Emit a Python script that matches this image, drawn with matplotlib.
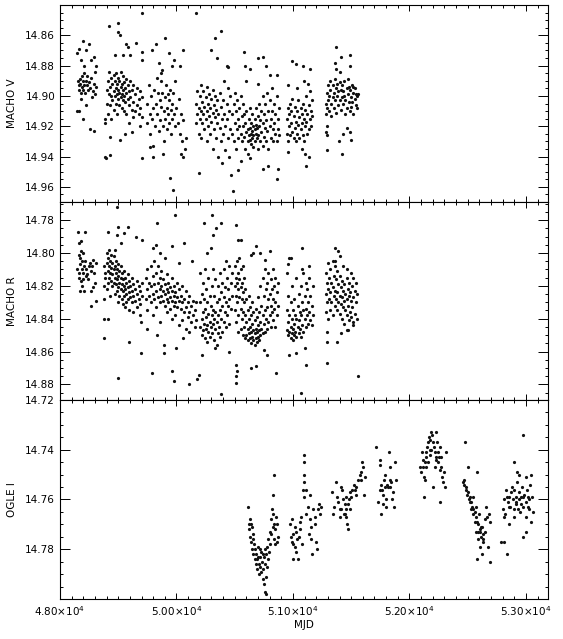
import numpy as np
import matplotlib
matplotlib.use("Agg")
import matplotlib.pyplot as plt
from matplotlib.ticker import MultipleLocator, FixedLocator

# each row: (MJD, mag, mag, ...) -> all mags observed near that date
v_obs = [
    # season 1
    (49150, 14.872, 14.910), (49155, 14.890), (49160, 14.893, 14.910), (49165, 14.869, 14.896), (49170, 14.889),
    (49175, 14.892), (49178, 14.876), (49180, 14.898, 14.902), (49185, 14.887), (49190, 14.894), (49195, 14.864, 14.890),
    (49200, 14.896, 14.915), (49205, 14.885), (49210, 14.880, 14.893), (49215, 14.898), (49220, 14.890),
    (49225, 14.870, 14.906), (49230, 14.893), (49235, 14.887), (49240, 14.896), (49250, 14.866, 14.891), (49255, 14.922),
    (49260, 14.895), (49270, 14.876, 14.888), (49275, 14.901), (49280, 14.897), (49290, 14.874, 14.892, 14.923),
    (49300, 14.899, 14.884), (49305, 14.880), (49310, 14.894),
    # season 2
    (49383, 14.940), (49390, 14.915, 14.918), (49395, 14.941), (49400, 14.896, 14.905), (49410, 14.890, 14.912),
    (49418, 14.854), (49420, 14.899, 14.884), (49426, 14.939, 14.927), (49430, 14.894, 14.906),
    (49440, 14.888, 14.900, 14.915), (49450, 14.892, 14.903), (49460, 14.886, 14.897, 14.909),
    (49470, 14.890, 14.900, 14.873), (49480, 14.885, 14.895, 14.905), (49490, 14.892, 14.899, 14.912), (49498, 14.852),
    (49500, 14.888, 14.896, 14.902, 14.858), (49510, 14.890, 14.898, 14.906), (49512, 14.860), (49513, 14.929),
    (49520, 14.884, 14.894, 14.901), (49530, 14.892, 14.899, 14.908), (49540, 14.887, 14.896, 14.903, 14.873),
    (49550, 14.891, 14.900, 14.910), (49556, 14.925), (49560, 14.895, 14.904), (49570, 14.889, 14.898, 14.912, 14.866),
    (49580, 14.893, 14.902), (49585, 14.868), (49590, 14.897, 14.906, 14.918), (49600, 14.890, 14.901, 14.873),
    (49615, 14.896, 14.909), (49620, 14.924), (49630, 14.893, 14.904, 14.914), (49645, 14.899, 14.910), (49650, 14.865),
    (49660, 14.895, 14.906), (49675, 14.902, 14.912), (49690, 14.897, 14.908, 14.920), (49700, 14.876, 14.941),
    (49705, 14.901, 14.914), (49708, 14.845, 14.871),
    # season 3
    (49745, 14.905), (49750, 14.918), (49760, 14.893), (49770, 14.912, 14.934), (49775, 14.925), (49780, 14.900),
    (49790, 14.915, 14.870), (49795, 14.933), (49800, 14.908, 14.940), (49805, 14.896), (49815, 14.920),
    (49820, 14.905, 14.866), (49830, 14.888), (49835, 14.912), (49840, 14.898), (49850, 14.923, 14.878), (49855, 14.903),
    (49860, 14.916), (49865, 14.890), (49870, 14.907, 14.885), (49880, 14.898, 14.883), (49885, 14.920, 14.938),
    (49890, 14.910), (49895, 14.930), (49900, 14.901), (49905, 14.915, 14.862), (49910, 14.893), (49915, 14.908),
    (49920, 14.922), (49925, 14.899), (49930, 14.912), (49935, 14.903, 14.872), (49940, 14.918), (49944, 14.954),
    (49945, 14.896), (49950, 14.909), (49955, 14.925), (49960, 14.905, 14.880), (49965, 14.915), (49970, 14.898),
    (49972, 14.962), (49980, 14.912, 14.876), (49985, 14.890), (49990, 14.920), (50000, 14.908), (50010, 14.918),
    (50020, 14.902), (50030, 14.925, 14.880), (50035, 14.938), (50040, 14.912), (50050, 14.930),
    (50060, 14.916, 14.870, 14.940), (50070, 14.935), (50080, 14.928),
    # season 4
    (50166, 14.845), (50170, 14.905, 14.918), (50180, 14.897, 14.912), (50190, 14.908, 14.925, 14.951),
    (50200, 14.900, 14.915), (50210, 14.893, 14.910, 14.928), (50220, 14.904, 14.918), (50230, 14.897, 14.912),
    (50240, 14.907, 14.922), (50250, 14.901, 14.915), (50260, 14.894, 14.910, 14.930), (50270, 14.905, 14.920),
    (50280, 14.899, 14.913), (50290, 14.908, 14.925), (50300, 14.902, 14.917, 14.870), (50310, 14.896, 14.911, 14.935),
    (50320, 14.906, 14.922), (50330, 14.900, 14.914), (50335, 14.862), (50340, 14.909, 14.928),
    (50350, 14.903, 14.918, 14.875), (50360, 14.912, 14.940), (50370, 14.898, 14.921), (50380, 14.907, 14.930, 14.857),
    (50390, 14.915, 14.944), (50400, 14.903, 14.925), (50410, 14.890, 14.912), (50420, 14.920, 14.936),
    (50430, 14.905, 14.915, 14.880), (50440, 14.895, 14.928), (50445, 14.881), (50450, 14.910, 14.940),
    (50460, 14.900, 14.922), (50465, 14.952),
    # season 5
    (50480, 14.912, 14.925), (50485, 14.963), (50490, 14.905, 14.930), (50500, 14.918, 14.898), (50510, 14.910, 14.935),
    (50520, 14.922, 14.903), (50530, 14.915, 14.928, 14.949), (50540, 14.908, 14.920), (50550, 14.925, 14.900, 14.943),
    (50560, 14.913, 14.930), (50570, 14.920, 14.905), (50580, 14.927, 14.912, 14.871), (50585, 14.880),
    (50590, 14.918, 14.935), (50600, 14.910, 14.924, 14.890), (50610, 14.922, 14.930, 14.938), (50620, 14.915, 14.926),
    (50630, 14.908, 14.921, 14.929, 14.941), (50635, 14.882), (50640, 14.918, 14.925, 14.932),
    (50650, 14.912, 14.923, 14.928), (50660, 14.920, 14.926, 14.934), (50670, 14.915, 14.922, 14.930),
    (50680, 14.908, 14.925, 14.919), (50690, 14.921, 14.928), (50700, 14.913, 14.926, 14.935, 14.875, 14.892),
    (50710, 14.905, 14.920), (50720, 14.916, 14.930), (50730, 14.910, 14.924), (50740, 14.900, 14.918, 14.933, 14.948),
    (50745, 14.874), (50750, 14.912, 14.927), (50760, 14.905, 14.921), (50770, 14.916, 14.930, 14.880),
    (50780, 14.898, 14.923), (50790, 14.910, 14.935, 14.946), (50800, 14.903, 14.920, 14.886), (50810, 14.915, 14.928),
    (50820, 14.895, 14.910), (50830, 14.922, 14.930), (50840, 14.905, 14.918), (50850, 14.925, 14.912),
    (50860, 14.900, 14.930, 14.886), (50865, 14.955), (50870, 14.915, 14.922, 14.948), (50880, 14.908, 14.926),
    # season 6
    (50945, 14.915, 14.925), (50955, 14.908, 14.930, 14.893), (50960, 14.937), (50965, 14.912, 14.920),
    (50975, 14.905, 14.926), (50985, 14.918, 14.910), (50990, 14.877), (50995, 14.902, 14.924), (51005, 14.913, 14.928),
    (51015, 14.907, 14.921), (51025, 14.917, 14.930), (51030, 14.879), (51035, 14.910, 14.925, 14.895),
    (51045, 14.903, 14.919), (51055, 14.914, 14.928), (51065, 14.908, 14.922), (51075, 14.918, 14.912), (51080, 14.935),
    (51085, 14.905, 14.926, 14.880), (51093, 14.890), (51095, 14.915, 14.930), (51100, 14.938), (51105, 14.909, 14.920),
    (51110, 14.946), (51115, 14.900, 14.917), (51125, 14.912, 14.925), (51130, 14.892), (51135, 14.906, 14.922),
    (51140, 14.940), (51145, 14.915, 14.897), (51150, 14.882), (51155, 14.910, 14.920), (51165, 14.903, 14.913),
    # season 7
    (51280, 14.905, 14.912), (51287, 14.924), (51290, 14.898, 14.908), (51293, 14.920, 14.926, 14.936),
    (51300, 14.893, 14.903), (51310, 14.900, 14.910), (51320, 14.896, 14.890), (51330, 14.905, 14.913),
    (51340, 14.893, 14.901), (51350, 14.898, 14.908), (51358, 14.878), (51360, 14.889, 14.903), (51367, 14.868),
    (51370, 14.895, 14.911), (51373, 14.882), (51380, 14.900, 14.892), (51390, 14.906, 14.897), (51396, 14.930),
    (51400, 14.891, 14.903), (51407, 14.884), (51410, 14.896, 14.909, 14.874), (51420, 14.901, 14.893), (51424, 14.938),
    (51430, 14.897, 14.905, 14.925), (51440, 14.890, 14.900), (51450, 14.903, 14.912), (51460, 14.895, 14.908, 14.921),
    (51470, 14.899, 14.889), (51480, 14.904, 14.894), (51487, 14.880, 14.924), (51490, 14.896, 14.910), (51493, 14.873),
    (51500, 14.901, 14.907, 14.929), (51510, 14.893, 14.904), (51516, 14.894), (51520, 14.898, 14.912),
    (51530, 14.902, 14.895), (51540, 14.906, 14.899), (51550, 14.900, 14.908), (51559, 14.899),
]

r_obs = [
    # season 1
    (49150, 14.810), (49152, 14.787), (49160, 14.801, 14.812), (49165, 14.815), (49166, 14.794), (49170, 14.803, 14.823),
    (49175, 14.807), (49180, 14.793, 14.799, 14.817), (49185, 14.810), (49190, 14.805, 14.820), (49195, 14.812),
    (49200, 14.800, 14.816), (49205, 14.808), (49210, 14.823), (49215, 14.805), (49217, 14.787), (49220, 14.814),
    (49225, 14.810), (49235, 14.813), (49240, 14.816), (49245, 14.808), (49255, 14.806), (49265, 14.811, 14.832),
    (49266, 14.823), (49275, 14.808), (49280, 14.821), (49285, 14.804), (49295, 14.812), (49300, 14.818),
    (49305, 14.806), (49308, 14.829),
    # season 2
    (49380, 14.808, 14.820, 14.828, 14.840, 14.852), (49390, 14.812, 14.815), (49400, 14.800, 14.806, 14.822),
    (49410, 14.803, 14.811, 14.818, 14.787, 14.840), (49420, 14.798, 14.808, 14.815), (49430, 14.805, 14.812, 14.826),
    (49440, 14.801, 14.809, 14.817), (49450, 14.806, 14.813, 14.820), (49460, 14.802, 14.810, 14.818),
    (49470, 14.808, 14.815, 14.825, 14.798), (49480, 14.805, 14.812, 14.819), (49489, 14.772, 14.789),
    (49490, 14.810, 14.816, 14.823), (49495, 14.784, 14.876), (49500, 14.807, 14.814, 14.821, 14.830),
    (49510, 14.811, 14.818, 14.826), (49520, 14.808, 14.815, 14.822, 14.794), (49530, 14.812, 14.819, 14.828),
    (49540, 14.816, 14.823, 14.831), (49550, 14.811, 14.820, 14.826), (49552, 14.788), (49560, 14.815, 14.822, 14.833),
    (49570, 14.818, 14.825, 14.830), (49580, 14.813, 14.821, 14.828, 14.784), (49590, 14.817, 14.824, 14.835),
    (49595, 14.854), (49600, 14.820, 14.827), (49615, 14.815, 14.823, 14.830), (49630, 14.819, 14.826, 14.836),
    (49645, 14.822, 14.829), (49652, 14.790), (49660, 14.817, 14.825, 14.833), (49675, 14.820, 14.828),
    (49690, 14.823, 14.831, 14.838), (49695, 14.842, 14.861), (49704, 14.792), (49705, 14.818, 14.826),
    # season 3
    (49735, 14.815, 14.828), (49745, 14.846), (49750, 14.810, 14.822, 14.835), (49765, 14.818, 14.826),
    (49780, 14.808, 14.820, 14.830), (49789, 14.873), (49795, 14.814, 14.825, 14.838, 14.797),
    (49810, 14.805, 14.819, 14.828), (49825, 14.812, 14.823, 14.833, 14.795), (49829, 14.782), (49830, 14.850),
    (49840, 14.808, 14.818, 14.827), (49855, 14.815, 14.822, 14.830, 14.842), (49860, 14.800),
    (49870, 14.811, 14.820, 14.826), (49885, 14.816, 14.823, 14.829), (49895, 14.856, 14.861),
    (49900, 14.819, 14.825, 14.832, 14.803), (49915, 14.813, 14.822, 14.828, 14.836), (49930, 14.818, 14.824, 14.830),
    (49945, 14.821, 14.827, 14.834), (49958, 14.872), (49960, 14.815, 14.823, 14.829, 14.840), (49965, 14.796),
    (49975, 14.820, 14.826, 14.832, 14.878), (49989, 14.777), (49990, 14.824, 14.830, 14.838), (50000, 14.858),
    (50005, 14.818, 14.827, 14.833), (50020, 14.822, 14.829, 14.844, 14.806), (50035, 14.826, 14.834),
    (50050, 14.820, 14.830, 14.841), (50060, 14.852), (50065, 14.828, 14.836, 14.794), (50080, 14.823, 14.833, 14.846),
    (50095, 14.830, 14.839), (50109, 14.880), (50110, 14.826, 14.836, 14.848), (50125, 14.832, 14.842), (50130, 14.805),
    (50140, 14.829, 14.838), (50155, 14.835, 14.845), (50170, 14.830, 14.841), (50180, 14.877), (50195, 14.874),
    # season 4
    (50205, 14.812, 14.830, 14.845), (50215, 14.825, 14.840, 14.850), (50220, 14.862), (50225, 14.818, 14.836, 14.847),
    (50235, 14.828, 14.843, 14.782), (50245, 14.810, 14.834, 14.852), (50255, 14.822, 14.839, 14.846), (50260, 14.800),
    (50265, 14.830, 14.844, 14.854), (50275, 14.815, 14.837, 14.848), (50285, 14.826, 14.842, 14.851),
    (50295, 14.832, 14.845), (50300, 14.797), (50305, 14.820, 14.838, 14.849), (50309, 14.777),
    (50315, 14.810, 14.835, 14.843, 14.789), (50325, 14.826, 14.840, 14.853), (50330, 14.858),
    (50335, 14.816, 14.836, 14.846), (50343, 14.785), (50345, 14.830, 14.842, 14.856), (50355, 14.820, 14.838, 14.849),
    (50365, 14.828, 14.845), (50375, 14.812, 14.835, 14.851), (50385, 14.824, 14.840), (50386, 14.782, 14.886),
    (50395, 14.818, 14.832, 14.848), (50405, 14.810, 14.827, 14.842), (50415, 14.821, 14.836),
    (50425, 14.805, 14.830, 14.845), (50435, 14.815, 14.838), (50445, 14.822, 14.832), (50450, 14.860),
    (50455, 14.808, 14.828, 14.843), (50465, 14.818, 14.834), (50475, 14.812, 14.826),
    # season 5
    (50500, 14.808, 14.820, 14.835), (50509, 14.783, 14.868, 14.875, 14.879), (50510, 14.815, 14.826, 14.842),
    (50520, 14.805, 14.818, 14.830), (50523, 14.872), (50529, 14.792), (50530, 14.812, 14.822, 14.838, 14.848),
    (50540, 14.803, 14.816, 14.827), (50550, 14.810, 14.821, 14.834, 14.846), (50558, 14.792),
    (50560, 14.818, 14.828, 14.840), (50570, 14.808, 14.824, 14.836, 14.850), (50580, 14.815, 14.830, 14.845),
    (50590, 14.822, 14.838, 14.852), (50600, 14.828, 14.842, 14.850), (50610, 14.835, 14.846, 14.853),
    (50620, 14.826, 14.840, 14.849), (50630, 14.833, 14.845, 14.852), (50640, 14.838, 14.848, 14.855, 14.801),
    (50644, 14.870), (50650, 14.830, 14.843, 14.851), (50660, 14.836, 14.847, 14.853, 14.800),
    (50670, 14.841, 14.849, 14.856), (50680, 14.834, 14.846, 14.852), (50687, 14.796, 14.869),
    (50690, 14.839, 14.848, 14.854), (50700, 14.827, 14.844, 14.851), (50710, 14.836, 14.847, 14.853),
    (50720, 14.820, 14.842, 14.850, 14.800), (50730, 14.832, 14.846), (50740, 14.815, 14.838, 14.849),
    (50750, 14.826, 14.843, 14.859), (50760, 14.810, 14.835, 14.848, 14.804), (50770, 14.822, 14.840),
    (50780, 14.818, 14.833, 14.846, 14.862), (50790, 14.812, 14.828, 14.842), (50800, 14.825, 14.838, 14.799),
    (50810, 14.816, 14.832, 14.845), (50820, 14.822, 14.836), (50830, 14.810, 14.828, 14.841), (50840, 14.820, 14.834),
    (50850, 14.815, 14.830, 14.845), (50852, 14.873), (50860, 14.824, 14.838), (50870, 14.818, 14.832),
    # season 6
    (50950, 14.812, 14.835, 14.847), (50958, 14.807), (50960, 14.826, 14.842, 14.850), (50966, 14.862),
    (50970, 14.803, 14.838, 14.848), (50980, 14.830, 14.845, 14.852), (50987, 14.803), (50990, 14.820, 14.840, 14.849),
    (51000, 14.835, 14.846, 14.853), (51010, 14.828, 14.843, 14.850), (51020, 14.838, 14.848),
    (51030, 14.815, 14.840, 14.851, 14.861), (51040, 14.832, 14.845), (51050, 14.825, 14.841, 14.849),
    (51060, 14.836, 14.846), (51067, 14.885), (51070, 14.820, 14.838, 14.851), (51080, 14.830, 14.844, 14.810),
    (51081, 14.797), (51090, 14.812, 14.835, 14.848), (51100, 14.826, 14.840, 14.858), (51110, 14.818, 14.834, 14.845),
    (51115, 14.868), (51120, 14.822, 14.838), (51130, 14.830, 14.843), (51140, 14.815, 14.836, 14.808),
    (51150, 14.826, 14.841), (51160, 14.832, 14.844), (51170, 14.820, 14.838),
    # season 7
    (51280, 14.812, 14.825, 14.836), (51290, 14.818, 14.830, 14.848), (51293, 14.867), (51296, 14.854),
    (51300, 14.806, 14.822, 14.840), (51310, 14.815, 14.828), (51320, 14.810, 14.824, 14.835), (51330, 14.818, 14.830),
    (51340, 14.805, 14.821, 14.838), (51350, 14.814, 14.826), (51358, 14.797, 14.805), (51360, 14.808, 14.823, 14.832),
    (51370, 14.816, 14.828), (51380, 14.811, 14.824, 14.835, 14.854), (51387, 14.799), (51390, 14.819, 14.830),
    (51400, 14.814, 14.826, 14.837, 14.802), (51410, 14.821, 14.831, 14.849), (51420, 14.817, 14.827, 14.840),
    (51430, 14.823, 14.833, 14.808), (51440, 14.819, 14.829, 14.843), (51450, 14.825, 14.835),
    (51460, 14.815, 14.828, 14.838, 14.810, 14.847), (51470, 14.822, 14.832), (51475, 14.847),
    (51480, 14.818, 14.826, 14.841), (51490, 14.824, 14.836), (51500, 14.812, 14.829, 14.839), (51510, 14.820, 14.833),
    (51520, 14.815, 14.827, 14.844, 14.842), (51530, 14.823, 14.837), (51540, 14.818, 14.830), (51550, 14.825, 14.840),
    (51558, 14.875),
]

i_obs = [
    # season 1
    (50615, 14.763), (50620, 14.770), (50625, 14.772), (50630, 14.768), (50635, 14.775), (50640, 14.777, 14.770),
    (50645, 14.771), (50650, 14.780), (50655, 14.776), (50660, 14.782, 14.774), (50665, 14.778), (50670, 14.784),
    (50675, 14.780), (50680, 14.786), (50685, 14.782), (50690, 14.788), (50695, 14.784), (50700, 14.779, 14.783),
    (50705, 14.786), (50710, 14.790), (50715, 14.783), (50720, 14.787, 14.780), (50725, 14.781), (50730, 14.789),
    (50735, 14.785), (50740, 14.792, 14.782), (50745, 14.788), (50750, 14.783), (50755, 14.794), (50760, 14.786, 14.780),
    (50762, 14.797), (50765, 14.791), (50768, 14.798), (50770, 14.782), (50775, 14.787), (50780, 14.779),
    (50785, 14.784), (50790, 14.776), (50795, 14.781), (50800, 14.773), (50805, 14.778), (50810, 14.768),
    (50815, 14.774), (50820, 14.764), (50825, 14.771), (50830, 14.758), (50832, 14.766), (50835, 14.750),
    (50838, 14.776), (50840, 14.770), (50845, 14.778), (50850, 14.772), (50855, 14.767), (50860, 14.777),
    (50865, 14.770), (50870, 14.775),
    # season 2
    (50973, 14.770), (50987, 14.775), (50995, 14.768, 14.777), (51001, 14.774, 14.778, 14.784), (51015, 14.771, 14.779),
    (51024, 14.781), (51030, 14.773), (51036, 14.776), (51044, 14.784), (51053, 14.775), (51058, 14.772, 14.769),
    (51073, 14.767), (51081, 14.778), (51087, 14.756), (51096, 14.742, 14.745, 14.750, 14.753, 14.759),
    (51116, 14.756, 14.766), (51130, 14.763), (51138, 14.774), (51144, 14.758, 14.768), (51158, 14.771, 14.776),
    (51167, 14.782), (51173, 14.764), (51187, 14.767, 14.770), (51201, 14.777), (51207, 14.780), (51216, 14.764),
    (51224, 14.762), (51230, 14.766), (51238, 14.763),
    # season 3
    (51338, 14.757), (51344, 14.766), (51350, 14.763), (51373, 14.753), (51379, 14.759), (51387, 14.761),
    (51401, 14.764), (51407, 14.767), (51416, 14.755, 14.764), (51424, 14.756), (51430, 14.760), (51436, 14.766),
    (51444, 14.762, 14.766), (51453, 14.764), (51459, 14.767, 14.759), (51464, 14.770), (51473, 14.772, 14.762),
    (51481, 14.760), (51487, 14.764), (51493, 14.757), (51501, 14.759), (51510, 14.756), (51521, 14.754),
    (51530, 14.756), (51539, 14.758), (51544, 14.755), (51559, 14.752), (51573, 14.750), (51582, 14.749),
    (51587, 14.752), (51593, 14.745), (51602, 14.747), (51607, 14.758), (51616, 14.751),
    # season 4
    (51716, 14.739), (51730, 14.761), (51745, 14.744, 14.756), (51750, 14.746), (51759, 14.754, 14.766),
    (51767, 14.756), (51773, 14.758, 14.762), (51779, 14.752), (51787, 14.750, 14.755), (51796, 14.760),
    (51802, 14.763), (51807, 14.754), (51816, 14.755), (51825, 14.741), (51830, 14.747, 14.752), (51836, 14.755),
    (51845, 14.753), (51853, 14.760), (51859, 14.757), (51865, 14.763), (51873, 14.745), (51882, 14.752),
    # season 5
    (52093, 14.747), (52102, 14.749), (52110, 14.741), (52116, 14.744, 14.747), (52122, 14.751, 14.759),
    (52130, 14.752, 14.745), (52139, 14.741), (52145, 14.743, 14.747), (52150, 14.739), (52159, 14.737, 14.745),
    (52167, 14.735), (52173, 14.736, 14.742), (52179, 14.740), (52187, 14.733, 14.740), (52196, 14.734),
    (52202, 14.737, 14.755), (52207, 14.739), (52216, 14.741, 14.747), (52225, 14.743), (52230, 14.733, 14.744),
    (52236, 14.737), (52245, 14.745, 14.741), (52253, 14.743), (52259, 14.748, 14.761), (52265, 14.739),
    (52273, 14.747, 14.743), (52282, 14.751), (52288, 14.753), (52293, 14.749), (52302, 14.755), (52310, 14.741),
    # season 6
    (52459, 14.753), (52468, 14.754), (52473, 14.752), (52479, 14.737), (52482, 14.756), (52488, 14.755),
    (52493, 14.758), (52502, 14.747, 14.757), (52510, 14.760), (52516, 14.759), (52522, 14.761), (52530, 14.761, 14.764),
    (52539, 14.763), (52545, 14.759, 14.766), (52550, 14.764), (52559, 14.765, 14.769), (52568, 14.767, 14.773),
    (52573, 14.763), (52579, 14.769), (52582, 14.749, 14.784), (52588, 14.770, 14.776, 14.773), (52596, 14.766),
    (52602, 14.772, 14.779), (52608, 14.773), (52616, 14.775, 14.771), (52622, 14.782), (52625, 14.771),
    (52631, 14.776), (52636, 14.777, 14.774), (52645, 14.773), (52653, 14.768), (52659, 14.763), (52665, 14.767),
    (52673, 14.779), (52682, 14.766), (52688, 14.769), (52693, 14.785),
    # season 7
    (52788, 14.777), (52802, 14.764), (52808, 14.767), (52816, 14.760, 14.777), (52825, 14.766), (52831, 14.756),
    (52836, 14.759, 14.782), (52845, 14.761), (52854, 14.770), (52859, 14.759, 14.763), (52865, 14.763),
    (52874, 14.757), (52882, 14.755), (52888, 14.760), (52894, 14.767), (52897, 14.745), (52902, 14.756, 14.764),
    (52911, 14.762), (52916, 14.759, 14.761), (52922, 14.753), (52925, 14.749), (52931, 14.764), (52939, 14.760),
    (52945, 14.757, 14.750), (52951, 14.765), (52959, 14.762, 14.759), (52968, 14.755),
    (52974, 14.734, 14.759, 14.775), (52979, 14.763), (52988, 14.758), (52997, 14.761),
    (53002, 14.751, 14.767, 14.773), (53008, 14.756), (53016, 14.763, 14.759), (53025, 14.760), (53031, 14.764),
    (53037, 14.754), (53045, 14.750, 14.769), (53054, 14.759), (53059, 14.765),
]

panel_labels = ["MACHO V", "MACHO R", "OGLE I"]
panel_ylims = [(14.970, 14.840), (14.8895, 14.769), (14.800, 14.720)]
panel_yticks = [[14.86, 14.88, 14.90, 14.92, 14.94, 14.96],
                [14.78, 14.80, 14.82, 14.84, 14.86, 14.88],
                [14.72, 14.74, 14.76, 14.78]]
x_ticks = [49000, 50000, 51000, 52000, 53000]
x_ticklabels = ["4.80\u00d710$^4$", "5.00\u00d710$^4$", "5.10\u00d710$^4$",
                "5.20\u00d710$^4$", "5.30\u00d710$^4$"]


def expand(rows):
    """Turn (mjd, mag, mag, ...) rows into flat arrays."""
    t, m = [], []
    for row in rows:
        for mag in row[1:]:
            t.append(row[0])
            m.append(mag)
    return np.array(t), np.array(m)


fig = plt.figure(figsize=(5.63, 6.39), dpi=100)
left, width = 60 / 563, 488 / 563
bottoms = [1 - 202 / 639, 1 - 400 / 639, 1 - 599 / 639]
heights = [197 / 639, 198 / 639, 199 / 639]

for k, obs in enumerate([v_obs, r_obs, i_obs]):
    ax = fig.add_axes([left, bottoms[k], width, heights[k]])
    t, m = expand(obs)
    ax.plot(t, m, 'o', ms=2.3, color='#111111', mec='none')
    ax.set_xlim(49000, 53190)
    ax.set_ylim(*panel_ylims[k])
    ax.yaxis.set_major_locator(FixedLocator(panel_yticks[k]))
    ax.yaxis.set_minor_locator(MultipleLocator(0.005))
    ax.set_yticklabels(["%.2f" % v for v in panel_yticks[k]], fontsize=7.5)
    ax.xaxis.set_major_locator(FixedLocator(x_ticks))
    ax.xaxis.set_minor_locator(MultipleLocator(100))
    ax.tick_params(axis='both', which='both', direction='in', top=True, right=True, width=0.7)
    ax.tick_params(axis='y', which='major', length=7)
    ax.tick_params(axis='y', which='minor', length=2.5)
    ax.tick_params(axis='x', which='major', length=4)
    ax.tick_params(axis='x', which='minor', length=2)
    for sp in ax.spines.values():
        sp.set_linewidth(0.8)
    ax.set_ylabel(panel_labels[k], fontsize=7.5, labelpad=6)
    if k == 2:
        ax.set_xticklabels(x_ticklabels, fontsize=7.5)
        ax.set_xlabel("MJD", fontsize=7.5, labelpad=2)
    else:
        ax.set_xticklabels([])

fig.savefig("out.png", dpi=100)
